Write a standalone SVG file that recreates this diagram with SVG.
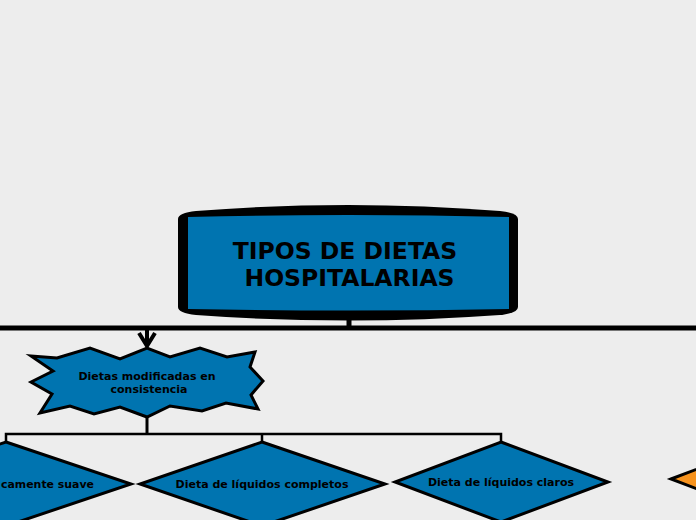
<svg xmlns="http://www.w3.org/2000/svg" width="696" height="520" viewBox="0 0 696 520">
<style>
.t{font-family:"DejaVu Sans","Liberation Sans",sans-serif;font-weight:bold;fill:#000}
.sh{fill:#0074B0;stroke:#000;stroke-width:3;stroke-linejoin:miter}
.ln{fill:none;stroke:#000}
</style>
<rect width="696" height="520" fill="#EDEDED"/>
<g id="connectors">
<line class="ln" x1="0" y1="328" x2="696" y2="328" stroke-width="5"/>
<line class="ln" x1="349" y1="316" x2="349" y2="328" stroke-width="5"/>
<path class="ln" d="M147,330 V346 M139,333 L147,346 L155,333" stroke-width="4"/>
<line class="ln" x1="147" y1="416" x2="147" y2="434" stroke-width="3"/>
<path class="ln" d="M6,442 V434 H501 V442 M262,434 V442" stroke-width="2.5"/>
</g>
<g id="main">
<path d="M178,219 Q178,213 196,211 Q349,199 500,211 Q518,213 518,219 L518,307 Q518,313 500,315 Q349,326 196,315 Q178,313 178,307 Z" fill="#000"/>
<path d="M188,217 Q349,213 509,217 L509,309 Q349,312 188,309 Z" fill="#0074B0"/>
<text class="t" font-size="23.5" text-anchor="middle"><tspan x="345" y="259">TIPOS DE DIETAS</tspan><tspan x="349.5" y="286">HOSPITALARIAS</tspan></text>
</g>
<g id="consistencia">
<path class="sh" d="M31,356 L57,358 L90,348 L120,359 L147,348 L170,357 L200,348 L227,357 L255,352 L250,367 L263,381 L251,395 L258,409 L226,403 L202,411 L170,406 L147,417 L120,407 L94,414 L70,406 L40,413 L52,394 L31,382 L53,371 Z"/>
<text class="t" font-size="11" text-anchor="middle"><tspan x="147" y="380">Dietas modificadas en</tspan><tspan x="149" y="393">consistencia</tspan></text>
</g>
<g id="suave">
<path class="sh" d="M6,442 L131,484 L6,526 L-119,484 Z"/>
<text class="t" font-size="11" x="1" y="488" textLength="93" lengthAdjust="spacingAndGlyphs">camente suave</text>
</g>
<g id="completos">
<path class="sh" d="M262,442 L385,484 L262,526 L140,484 Z"/>
<text class="t" font-size="11" x="262" y="488" text-anchor="middle">Dieta de líquidos completos</text>
</g>
<g id="claros">
<path class="sh" d="M501,442 L608,482 L501,522 L395,482 Z"/>
<text class="t" font-size="11" x="501" y="486" text-anchor="middle">Dieta de líquidos claros</text>
</g>
<g id="orange">
<path d="M671,479 L750,449 L750,509 Z" fill="#F7931E" stroke="#000" stroke-width="3"/>
</g>
</svg>
